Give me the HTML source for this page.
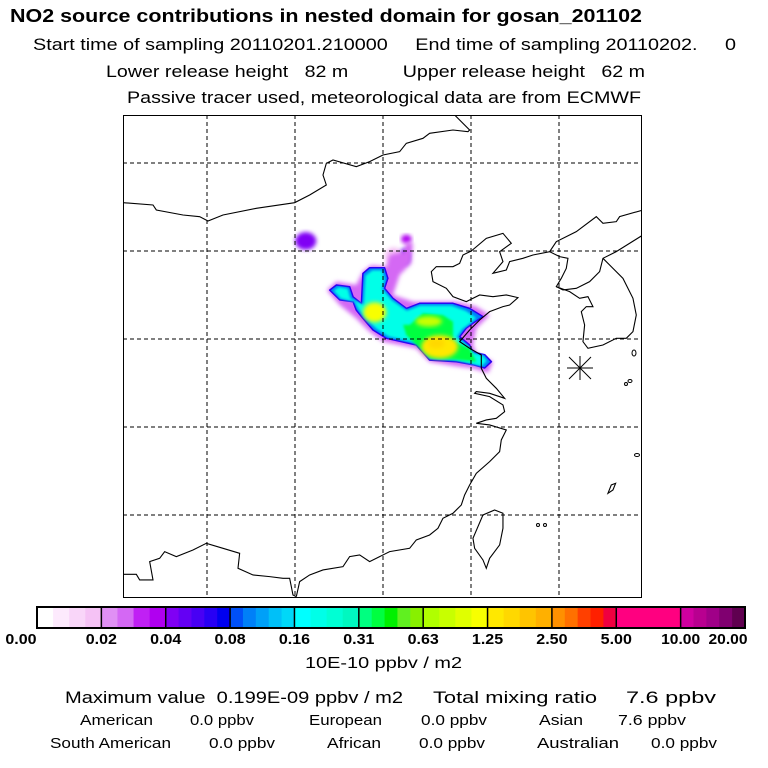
<!DOCTYPE html>
<html><head><meta charset="utf-8"><style>
html,body{margin:0;padding:0;background:#fff}
svg{display:block;font-family:"Liberation Sans",sans-serif}
</style></head><body>
<svg id="chart" width="768" height="768" viewBox="0 0 768 768" xmlns="http://www.w3.org/2000/svg">
<defs>
<filter id="soft" x="-20%" y="-20%" width="140%" height="140%"><feGaussianBlur stdDeviation="2.2"/></filter>
<filter id="soft1" x="-20%" y="-20%" width="140%" height="140%"><feGaussianBlur stdDeviation="1.2"/></filter>
<clipPath id="mapclip"><rect x="123" y="115" width="519" height="483"/></clipPath>
</defs>
<g fill="#000">
<text x="10" y="22" font-size="18" font-weight="bold" textLength="632" lengthAdjust="spacingAndGlyphs">NO2 source contributions in nested domain for gosan_201102</text>
<text x="33" y="50" font-size="17" textLength="703" lengthAdjust="spacingAndGlyphs" xml:space="preserve">Start time of sampling 20110201.210000     End time of sampling 20110202.     0</text>
<text x="106" y="77" font-size="17" textLength="539" lengthAdjust="spacingAndGlyphs" xml:space="preserve">Lower release height   82 m          Upper release height   62 m</text>
<text x="127" y="103" font-size="17" textLength="514" lengthAdjust="spacingAndGlyphs">Passive tracer used, meteorological data are from ECMWF</text>
</g>
<g id="map" clip-path="url(#mapclip)">
<rect x="123" y="115" width="519" height="483" fill="#fff"/>
<g id="plume"></g>
<g id="grid"></g>
<g transform="translate(123,115) scale(0.3333)" fill="none" stroke="#000" stroke-width="1.1">
<path vector-effect="non-scaling-stroke" d="M0,263 L90,270 100,285 180,300 230,305 255,318 300,300 400,280 515,263 560,240 610,210 600,180 610,145 630,135 700,155 740,140 780,120 830,110 850,85 900,70 920,55 990,45 1035,50 1040,45 995,0"/>
<path vector-effect="non-scaling-stroke" d="M1045,408 L1090,370 1140,355 1165,385 1130,410 1140,440 1110,475 1150,465 1160,440 1200,430 1230,420 1280,410 1310,425 1335,430 1330,460 1315,490 1300,515 1320,525 1360,520 1400,500 1430,470 1440,430 1480,410 1560,360"/>
<path vector-effect="non-scaling-stroke" d="M1280,410 L1300,380 1360,350 1420,305 1440,325 1480,320 1490,305 1560,285"/>
<path vector-effect="non-scaling-stroke" d="M1300,515 L1340,530 1370,550 1395,545 1410,575 1390,575 1375,590 1385,630 1380,680 1395,700 1440,690 1480,670 1510,670 1530,650 1540,600 1530,550 1500,490 1460,450 1440,430"/>
<path vector-effect="non-scaling-stroke" d="M1045,408 L1020,420 1010,445 990,455 940,455 925,470 930,500 970,520 990,545 1030,560 1070,540 1110,545 1150,540 1185,548 1160,570 1140,575 1100,590 1070,615 1040,645 1010,680 1040,700 1075,720 1075,760 1090,790 1120,820 1145,850 1100,835 1060,830 1055,835 1100,845 1140,870 1145,890 1120,910 1090,915 1060,925 1100,930 1150,945 1135,975 1130,1010 1100,1040 1060,1075 1040,1110 1025,1140 1015,1170 990,1195 960,1210 945,1240 920,1260 880,1275 860,1300 800,1310 770,1325 740,1340 710,1320 680,1325 660,1355 600,1365 560,1380 530,1400 520,1445"/>
<path vector-effect="non-scaling-stroke" d="M0,1378 L40,1378 50,1395 90,1395 80,1340 110,1330 125,1310 160,1325 210,1305 250,1285 300,1300 350,1315 345,1360 390,1380 440,1385 480,1390 500,1390 510,1440 520,1445"/>
<path vector-effect="non-scaling-stroke" d="M1115,1185 L1140,1195 1140,1240 1130,1290 1100,1330 1090,1360 1080,1335 1055,1300 1050,1270 1080,1200 Z"/>
<path vector-effect="non-scaling-stroke" d="M1455,1135 L1465,1110 1478,1105 1470,1125 Z"/>
</g>
<g fill="none" stroke="#000" stroke-width="1">
<ellipse cx="634" cy="353" rx="2" ry="3"/><ellipse cx="630" cy="381" rx="2" ry="1.5"/><ellipse cx="626" cy="384" rx="1.5" ry="1.5"/>
<ellipse cx="637" cy="455" rx="2.5" ry="1.5"/><ellipse cx="538" cy="525" rx="1.5" ry="1.5"/><ellipse cx="545" cy="525" rx="1.5" ry="1.5"/>
</g>
<g stroke="#000" stroke-width="1">
<line x1="567" y1="368" x2="593" y2="368"/><line x1="580" y1="356" x2="580" y2="380"/>
<line x1="569" y1="357" x2="591" y2="379"/><line x1="569" y1="379" x2="591" y2="357"/>
</g>
</g>
<rect x="123.5" y="115.5" width="518" height="482" fill="none" stroke="#000" stroke-width="1"/>
<g id="colorbar"></g>
<text x="305" y="668" font-size="16" textLength="157" lengthAdjust="spacingAndGlyphs">10E-10 ppbv / m2</text>
<g fill="#000">
<text x="65" y="703" font-size="17" textLength="338" lengthAdjust="spacingAndGlyphs" xml:space="preserve">Maximum value  0.199E-09 ppbv / m2</text>
<text x="433" y="703" font-size="17" textLength="164" lengthAdjust="spacingAndGlyphs">Total mixing ratio</text>
<text x="626" y="703" font-size="17" textLength="90" lengthAdjust="spacingAndGlyphs">7.6 ppbv</text>
<g font-size="15">
<text x="80" y="725" textLength="73" lengthAdjust="spacingAndGlyphs">American</text>
<text x="190" y="725" textLength="64" lengthAdjust="spacingAndGlyphs">0.0 ppbv</text>
<text x="309" y="725" textLength="73" lengthAdjust="spacingAndGlyphs">European</text>
<text x="421" y="725" textLength="66" lengthAdjust="spacingAndGlyphs">0.0 ppbv</text>
<text x="539" y="725" textLength="44" lengthAdjust="spacingAndGlyphs">Asian</text>
<text x="618" y="725" textLength="68" lengthAdjust="spacingAndGlyphs">7.6 ppbv</text>
<text x="50" y="748" textLength="121" lengthAdjust="spacingAndGlyphs">South American</text>
<text x="209" y="748" textLength="66" lengthAdjust="spacingAndGlyphs">0.0 ppbv</text>
<text x="327" y="748" textLength="54" lengthAdjust="spacingAndGlyphs">African</text>
<text x="419" y="748" textLength="66" lengthAdjust="spacingAndGlyphs">0.0 ppbv</text>
<text x="537" y="748" textLength="82" lengthAdjust="spacingAndGlyphs">Australian</text>
<text x="651" y="748" textLength="66" lengthAdjust="spacingAndGlyphs">0.0 ppbv</text>
</g>
</g>
</svg>
<script>
// ---- data ----
const gridLons = [110, 115, 120, 125, 130];
const gridLats = [45, 40, 35, 30, 25];
const levelLabels = ["0.00","0.02","0.04","0.08","0.16","0.31","0.63","1.25","2.50","5.00","10.00","20.00"];
const levelColors = [
 ["#ffffff","#fdeafd","#f9d6f9","#f5c2f5"],
 ["#e090f4","#d468f4","#c020f4","#b000f0"],
 ["#8000f4","#6400f4","#4800f4","#2800f4","#0000f0"],
 ["#0050f8","#0080f8","#00a0f8","#00c0f8","#00d8f8"],
 ["#00ffff","#00ffe8","#00ffd4","#00f8c0"],
 ["#00ff80","#00ff40","#00f000","#60f020","#88f000"],
 ["#b0ff00","#c8ff00","#e0ff00","#f8ff00"],
 ["#ffe800","#ffd800","#ffc400","#ffb000"],
 ["#ff9000","#ff7000","#ff4000","#ff2000","#f00040"],
 ["#ff0080"],
 ["#d000a0","#b80090","#a00088","#800070","#600050"]
];
// plume contour layers: value (ppbv/m2 x1e-10), lons, lats
const layerValues = [0.03, 0.1, 0.2, 0.4];
const layerLons = [
 [116.82,117.35,118.48,118.86,119.34,120.19,120.38,121.14,121.33,121.70,121.61,120.95,120.57,121.70,124.17,125.30,126.06,125.30,125.11,125.30,126.25,125.97,125.11,124.17,122.65,121.89,120.00,119.24,118.48,117.54],
 [116.97,117.35,118.11,118.30,118.77,118.86,119.24,120.09,120.28,120.09,120.57,121.33,122.08,123.98,124.92,125.68,125.11,124.73,124.36,124.92,125.11,125.78,126.16,125.78,125.11,124.17,122.65,121.89,120.19,119.43,118.86,118.48,118.30,117.54],
 [117.2,117.5,118.0,118.15,118.9,119.0,119.4,119.95,120.1,119.95,120.5,121.35,122.1,123.9,124.7,125.3,124.9,124.5,124.2,124.8,125.2,125.7,125.9,125.6,125.0,124.1,122.7,122.0,120.3,119.6,119.0,118.6,118.4,117.6],
 [121.52,122.27,123.41,123.98,123.98,124.92,125.30,124.17,122.65,121.89,121.33,121.14]
];
const layerLats = [
 [37.78,38.26,38.07,38.83,39.19,39.11,39.77,39.96,40.53,40.44,39.30,38.64,37.50,37.12,37.12,36.84,36.36,35.61,34.66,34.19,33.71,33.07,33.33,33.45,33.71,34.47,34.85,35.42,36.17,36.93],
 [37.78,38.07,37.97,37.40,37.02,38.73,39.05,39.05,38.45,37.88,37.31,36.74,37.03,37.03,36.74,36.27,35.89,35.61,35.13,34.66,34.26,34.11,33.71,33.35,33.54,33.71,33.80,34.66,35.04,35.51,36.17,36.65,37.12,37.22],
 [37.75,37.95,37.85,37.3,36.95,38.6,38.9,38.9,38.4,37.85,37.2,36.6,36.9,36.9,36.6,36.2,35.85,35.55,35.1,34.6,34.2,34.05,33.75,33.45,33.6,33.8,33.9,34.75,35.15,35.6,36.2,36.7,37.1,37.3],
 [35.80,36.46,36.36,35.98,34.85,34.47,33.71,33.83,33.92,34.66,35.23,35.80]
];
// isolated blobs
const blobLon = [115.61, 121.33, 121.23, 118.2, 120.6, 119.53, 122.6, 123.22, 123.03];
const blobLat = [40.57, 40.68, 39.68, 37.55, 39.7, 36.52, 36.0, 34.56, 34.75];
const blobRx  = [0.6, 0.3, 0.3, 0.35, 0.5, 0.66, 0.75, 1.04, 0.47];
const blobRy  = [0.5, 0.25, 0.45, 0.3, 0.5, 0.57, 0.3, 0.66, 0.28];
const blobVal = [0.045, 0.035, 0.06, 0.03, 0.015, 1.1, 0.8, 1.3, 1.8];

// ---- scales ----
const NS = "http://www.w3.org/2000/svg";
function xLon(lon){ return 207 + (lon - 110) * 17.6; }
function yLat(lat){ return 339 - (lat - 35) * 17.6; }
const cbX0 = 37, cbX1 = 745, cbY = 607, cbH = 21;
function colorFor(v){
  const n = levelLabels.length - 1;
  let i = 0;
  while (i < n - 1 && v >= parseFloat(levelLabels[i+1])) i++;
  const lo = parseFloat(levelLabels[i]), hi = parseFloat(levelLabels[i+1]);
  const cols = levelColors[i];
  let f = (v - lo) / (hi - lo);
  f = Math.max(0, Math.min(0.999, f));
  return cols[Math.floor(f * cols.length)];
}

// ---- grid ----
const grid = document.getElementById('grid');
gridLons.forEach(lon => {
  const l = document.createElementNS(NS,'line');
  
  
  l.setAttribute('x1', xLon(lon)); l.setAttribute('x2', xLon(lon));
  l.setAttribute('y1', 115); l.setAttribute('y2', 598);
  l.setAttribute('stroke','#000'); l.setAttribute('stroke-dasharray','4,3'); l.setAttribute('stroke-width','1');
  grid.appendChild(l);
});
gridLats.forEach(lat => {
  const l = document.createElementNS(NS,'line');
  
  
  l.setAttribute('y1', yLat(lat)); l.setAttribute('y2', yLat(lat));
  l.setAttribute('x1', 123); l.setAttribute('x2', 642);
  l.setAttribute('stroke','#000'); l.setAttribute('stroke-dasharray','4,3'); l.setAttribute('stroke-width','1');
  grid.appendChild(l);
});

// ---- plume ----
const plume = document.getElementById('plume');
blobVal.forEach((v, i) => {
  if (v >= 0.1) return;
  const e = document.createElementNS(NS,'ellipse');
  
  
  e.setAttribute('cx', xLon(blobLon[i])); e.setAttribute('cy', yLat(blobLat[i]));
  e.setAttribute('rx', blobRx[i] * 17.6); e.setAttribute('ry', blobRy[i] * 17.6);
  e.setAttribute('fill', colorFor(v));
  e.setAttribute('filter', 'url(#soft)');
  plume.appendChild(e);
});
layerValues.forEach((v, k) => {
  const pts = layerLons[k].map((lon, j) => xLon(lon).toFixed(1) + ',' + yLat(layerLats[k][j]).toFixed(1)).join(' ');
  const p = document.createElementNS(NS,'polygon');
  
  
  p.setAttribute('points', pts);
  p.setAttribute('fill', colorFor(v));
  p.setAttribute('stroke-linejoin','round');
  if (k === 0) { p.setAttribute('filter','url(#soft)'); }
  else if (k === 1) { p.setAttribute('stroke','#2a00f0'); p.setAttribute('stroke-width','1.5'); }
  else { p.setAttribute('filter','url(#soft1)'); }
  plume.appendChild(p);
});
blobVal.forEach((v, i) => {
  if (v < 0.1) return;
  const e = document.createElementNS(NS,'ellipse');
  
  
  e.setAttribute('cx', xLon(blobLon[i])); e.setAttribute('cy', yLat(blobLat[i]));
  e.setAttribute('rx', blobRx[i] * 17.6); e.setAttribute('ry', blobRy[i] * 17.6);
  e.setAttribute('fill', colorFor(v));
  e.setAttribute('filter', 'url(#soft)');
  plume.appendChild(e);
});

// ---- colorbar ----
const cb = document.getElementById('colorbar');
const nSec = levelColors.length;
const secW = (cbX1 - cbX0) / nSec;
levelColors.forEach((cols, i) => {
  const w = secW / cols.length;
  cols.forEach((c, j) => {
    const r = document.createElementNS(NS,'rect');
    
    
    r.setAttribute('x', cbX0 + i * secW + j * w); r.setAttribute('y', cbY);
    r.setAttribute('width', w + 0.4); r.setAttribute('height', cbH);
    r.setAttribute('fill', c);
    cb.appendChild(r);
  });
});
for (let i = 1; i < nSec; i++) {
  const l = document.createElementNS(NS,'line');
  
  
  l.setAttribute('x1', cbX0 + i * secW); l.setAttribute('x2', cbX0 + i * secW);
  l.setAttribute('y1', cbY); l.setAttribute('y2', cbY + cbH);
  l.setAttribute('stroke','#000'); l.setAttribute('stroke-width','1.5');
  cb.appendChild(l);
}
const frame = document.createElementNS(NS,'rect');


frame.setAttribute('x', cbX0); frame.setAttribute('y', cbY);
frame.setAttribute('width', cbX1 - cbX0); frame.setAttribute('height', cbH);
frame.setAttribute('fill','none'); frame.setAttribute('stroke','#000'); frame.setAttribute('stroke-width','2');
cb.appendChild(frame);
levelLabels.forEach((lab, i) => {
  const t = document.createElementNS(NS,'text');
  
  
  let x = cbX0 + i * secW;
  if (i === 0) x = 21; if (i === levelLabels.length - 1) x = 728;
  t.setAttribute('x', x); t.setAttribute('y', 644);
  t.setAttribute('text-anchor','middle');
  t.setAttribute('font-size','15'); t.setAttribute('font-weight','bold');
  t.setAttribute('textLength', lab.length * 7.8); t.setAttribute('lengthAdjust','spacingAndGlyphs');
  t.textContent = lab;
  cb.appendChild(t);
});
</script>
</body></html>
